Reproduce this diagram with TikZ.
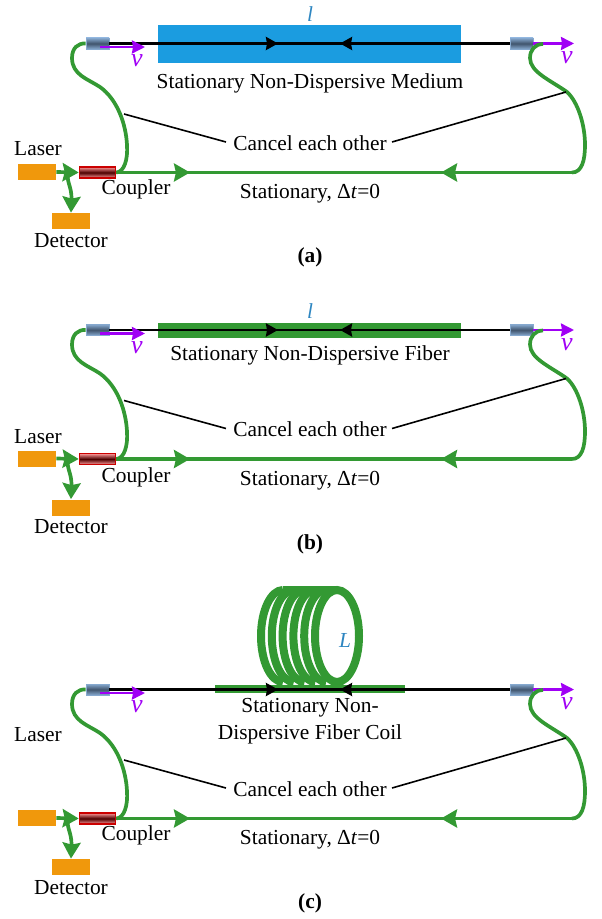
\documentclass[tikz,border=0pt]{standalone}
\usepackage{fontspec}
\setmainfont{Liberation Serif}
\usetikzlibrary{arrows.meta}
\definecolor{fibergreen}{HTML}{339933}
\definecolor{boxorange}{HTML}{F0980C}
\definecolor{mediumblue}{HTML}{1B9CE0}
\definecolor{labelblue}{HTML}{2E86C1}
\definecolor{movepurple}{HTML}{A000F5}
\definecolor{collimblue}{HTML}{86A9CF}
\definecolor{collimdark}{HTML}{40546C}
\tikzset{
	fiberline/.style={draw=fibergreen, line width=1.85pt},
	fiberarrow/.style={draw=fibergreen, line width=1.85pt, -{Stealth[length=8pt,width=9pt,inset=1pt]}},
	guideline/.style={draw=black, line width=1.3pt},
	guidearrow/.style={guideline, -{Stealth[length=6pt,width=6.5pt,inset=.5pt]}},
	movearrow/.style={draw=movepurple, line width=1.2pt, -{Stealth[length=6.5pt,width=6.5pt,inset=.5pt]}},
	boxnode/.style={fill=boxorange, minimum width=19pt, minimum height=8pt, inner sep=0pt},
	collimnode/.style={draw=collimblue, line width=.4pt, top color=collimblue, bottom color=collimblue, middle color=collimdark, minimum width=11.5pt, minimum height=5.5pt, inner sep=0pt},
	couplernode/.style={draw=red!80!black, line width=.8pt, top color=red!40!white, bottom color=red!40!white, middle color=red!30!black, minimum width=18pt, minimum height=5.5pt, inner sep=0pt},
	cancelline/.style={draw=black, line width=.8pt},
	textlabel/.style={inner sep=0pt, font=\fontsize{10.7}{12}\selectfont},
	coilturn/.style={draw=fibergreen, line width=4pt}
}
\begin{document}
\begin{tikzpicture}[x=0.5pt, y=-0.5pt]
	\useasboundingbox (0,0) rectangle (601,919);
	% (a) medium
	\node[fill=mediumblue, minimum width=151.5pt, minimum height=19pt, inner sep=0pt] (mediuma) at (309.5,44) {};
	\node[textlabel, text=labelblue] (la) at (310,14) {\textit{l}};
	\node[textlabel] (namea) at (310,83) {Stationary Non-Dispersive Medium};
	% (b) fiber
	\node[fill=fibergreen, minimum width=151.5pt, minimum height=7.5pt, inner sep=0pt] (mediumb) at (309.5,330.5) {};
	\node[textlabel, text=labelblue] (lb) at (310,311) {\textit{l}};
	\node[textlabel] (nameb) at (310,355) {Stationary Non-Dispersive Fiber};
	% (c) coil
	\foreach \cx in {283,293.8,304.6,315.4,326.2}{
		\draw[coilturn] (\cx,590) arc[start angle=90, end angle=270, x radius=11pt, y radius=23pt];
	}
	\draw[coilturn] (283,590) -- (337,590);
	\draw[coilturn] (337,636) ellipse[x radius=11pt, y radius=23pt];
	\node[fill=fibergreen, minimum width=95pt, minimum height=4pt, inner sep=0pt] (mediumc) at (310,689) {};
	\node[textlabel, text=labelblue] (lc) at (345,640) {\textit{L}};
	\node[textlabel] (namec) at (310,708) {Stationary Non-};
	\node[textlabel] (namecc) at (310,734) {Dispersive Fiber Coil};

	\foreach \panel/\dy/\lasery/\couplery/\detectory/\captiony in {a/0/149/189/241/257, b/286.5/150.5/190.5/240.5/257.5, c/646/89/189/242/257}{
		\begin{scope}[shift={(0,\dy)}]
			\node[boxnode] (\panel laser) at (37,172) {};
			\node[boxnode] (\panel detector) at (71,221) {};
			\node[couplernode] (\panel coupler) at (97.5,172.5) {};
			\node[collimnode] (\panel lcollim) at (97.5,43.5) {};
			\node[collimnode] (\panel rcollim) at (521.5,43.5) {};
			\node[textlabel] at (38,\lasery) {Laser};
			\node[textlabel] at (71,\detectory) {Detector};
			\node[textlabel] at (136,\couplery) {Coupler};
			\node[textlabel] (\panel stat) at (310,194) {Stationary, Δ\textit{t}=0};
			\node[textlabel] (\panel cancel) at (310,143) {Cancel each other};
			\node[textlabel, font=\fontsize{10.7}{12}\selectfont\bfseries] at (310,\captiony) {(\panel)};
			\coordinate (\panel tap) at (69,172.5);
			\coordinate (\panel fwd) at (190,172.5);
			\coordinate (\panel back) at (441,172.5);
			\coordinate (\panel corner) at (572,172.5);
			\coordinate (\panel rend) at (543,44);
			\coordinate (\panel lhit) at (124,114);
			\coordinate (\panel rhit) at (566,92);
			\coordinate (\panel tipr) at (278,43.5);
			\coordinate (\panel tipl) at (340,43.5);
			\coordinate (\panel vend) at (145,47);
			\coordinate (\panel vstart) at (100,47);
			\coordinate (\panel wend) at (574,43.5);
			% black fiber
			\draw[guideline] (\panel lcollim.east) -- (\panel rcollim.west);
			\draw[guidearrow] (\panel lcollim.east) -- (\panel tipr);
			\draw[guidearrow] (\panel rcollim.west) -- (\panel tipl);
			% velocity
			\draw[movearrow] (\panel vstart) -- (\panel vend);
			\draw[movearrow] (\panel rcollim.east) -- (\panel wend);
			\node[textlabel, text=movepurple, font=\fontsize{13}{14}\selectfont\itshape] at (137,61) {v};
			\node[textlabel, text=movepurple, font=\fontsize{13}{14}\selectfont\itshape] at (567,58) {v};
			% green loop
			\draw[fiberarrow] (\panel laser.east) -- (\panel coupler.west);
			\draw[fiberarrow] (\panel tap) .. controls (65,180) and (72,186) .. (\panel detector.north);
			\draw[fiberline] (\panel coupler.east) -- (\panel corner);
			\draw[fiberarrow] (\panel coupler.east) -- (\panel fwd);
			\draw[fiberarrow] (\panel corner) -- (\panel back);
			\draw[fiberline] (\panel coupler.east) .. controls (124,172) and (128,160) .. (127,145) .. controls (126,125) and (118,100) .. (100,87) .. controls (88,79) and (72,75) .. (72,58) .. controls (72,48) and (78,43) .. (\panel lcollim.west);
			\draw[fiberline] (\panel rend) .. controls (535,44) and (530,50) .. (530,58) .. controls (530,72) and (550,80) .. (567,92) .. controls (578,102) and (585,125) .. (585,145) .. controls (585,160) and (582,172.5) .. (\panel corner);
			% cancel lines
			\draw[cancelline] (\panel cancel.west) ++(-7,-1) -- (\panel lhit);
			\draw[cancelline] (\panel cancel.east) ++(5,-1) -- (\panel rhit);
		\end{scope}
	}
\end{tikzpicture}
\end{document}
